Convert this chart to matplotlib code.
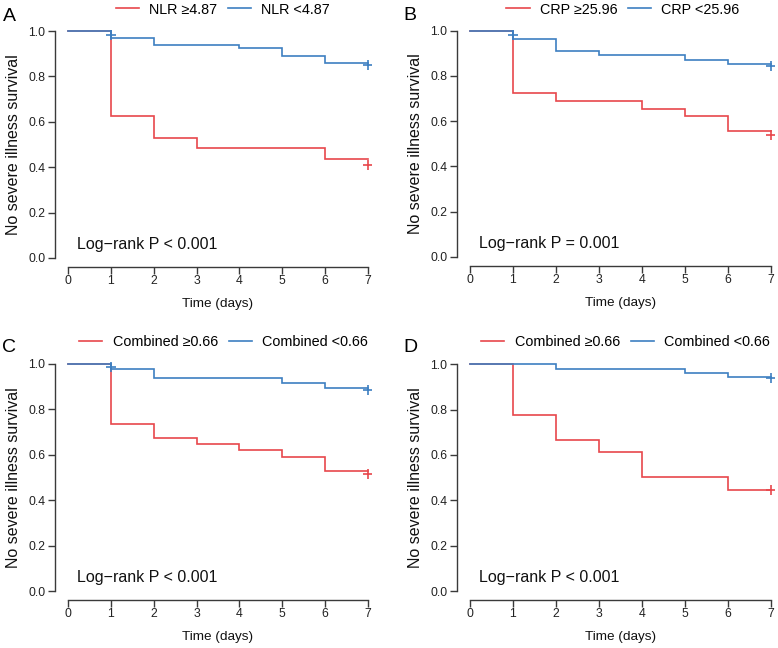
import matplotlib
matplotlib.use("Agg")
import matplotlib.pyplot as plt
from matplotlib.lines import Line2D

plt.rcParams['font.family'] = ['Liberation Sans', 'DejaVu Sans']

RED = '#E8474C'
BLUE = '#3D7FC1'

panel_letters = ['A', 'B', 'C', 'D']
legend_labels = [
    ['NLR \u22654.87', 'NLR <4.87'],
    ['CRP \u226525.96', 'CRP <25.96'],
    ['Combined \u22650.66', 'Combined <0.66'],
    ['Combined \u22650.66', 'Combined <0.66'],
]
pvalue_texts = ['Log\u2212rank P < 0.001', 'Log\u2212rank P = 0.001',
                'Log\u2212rank P < 0.001', 'Log\u2212rank P < 0.001']

# Step curves (time, survival)
red_t = [
    [0, 1, 2, 3, 6, 7],
    [0, 1, 2, 4, 5, 6, 7],
    [0, 1, 2, 3, 4, 5, 6, 7],
    [0, 1, 2, 3, 4, 6, 7],
]
red_s = [
    [1.0, 0.624, 0.530, 0.483, 0.435, 0.435],
    [1.0, 0.726, 0.690, 0.655, 0.623, 0.555, 0.555],
    [1.0, 0.734, 0.675, 0.648, 0.620, 0.590, 0.530, 0.530],
    [1.0, 0.776, 0.666, 0.613, 0.503, 0.446, 0.446],
]
blue_t = [
    [0, 1, 2, 4, 5, 6, 7],
    [0, 1, 2, 3, 5, 6, 7],
    [0, 1, 2, 5, 6, 7],
    [0, 2, 5, 6, 7],
]
blue_s = [
    [1.0, 0.970, 0.940, 0.924, 0.891, 0.858, 0.858],
    [1.0, 0.965, 0.909, 0.891, 0.872, 0.854, 0.854],
    [1.0, 0.978, 0.938, 0.916, 0.896, 0.896],
    [1.0, 0.979, 0.962, 0.943, 0.943],
]
# Censor marks
red_cens_t = [[7], [7], [7], [7]]
red_cens_s = [[0.408], [0.537], [0.515], [0.444]]
blue_cens_t = [[1, 7], [1, 7], [1, 7], [7]]
blue_cens_s = [[0.983, 0.850], [0.982, 0.842], [0.988, 0.885], [0.940]]

x_ticks = [0, 1, 2, 3, 4, 5, 6, 7]
y_ticks = [0.0, 0.2, 0.4, 0.6, 0.8, 1.0]
y_ticklabels = ['0.0', '0.2', '0.4', '0.6', '0.8', '1.0']

W, H = 778, 648
fig = plt.figure(figsize=(W / 100, H / 100), dpi=100)

# pixel mapping per panel: x of data 0, x of data 7, y of data 0, y of data 1
maps = [
    (68, 368, 258, 31),
    (470, 770.7, 256.7, 30.7),
    (68, 368, 591, 364),
    (470, 770.7, 591, 364.3),
]
legend_centers = [(223, 9.5), (623, 9.5), (223.5, 342), (625.5, 342)]
letter_pos = [(3, 21), (403, 20), (2, 352), (403, 352)]

XL = (-0.31, 7.08)
YL = (-0.04, 1.03)

for i in range(4):
    x0, x7, y0, y1 = maps[i]
    ux = (x7 - x0) / 7.0
    uy = (y0 - y1)
    left = x0 + XL[0] * ux
    right = x0 + XL[1] * ux
    bottom = y0 - YL[0] * uy
    top = y0 - YL[1] * uy
    ax = fig.add_axes([left / W, 1 - bottom / H, (right - left) / W, (bottom - top) / H])
    ax.set_xlim(*XL)
    ax.set_ylim(*YL)
    ax.patch.set_alpha(0)

    ax.step(red_t[i], red_s[i], where='post', color=RED, lw=1.2, solid_joinstyle='miter')
    ax.step(blue_t[i], blue_s[i], where='post', color=BLUE, lw=1.2, solid_joinstyle='miter')
    ax.plot(red_cens_t[i], red_cens_s[i], ls='none', marker='+', ms=7.5, mew=1.2, color=RED)
    ax.plot(blue_cens_t[i], blue_cens_s[i], ls='none', marker='+', ms=7.5, mew=1.2, color=BLUE)

    for s in ['top', 'right']:
        ax.spines[s].set_visible(False)
    for s in ['left', 'bottom']:
        ax.spines[s].set_color('#3a3a3a')
        ax.spines[s].set_linewidth(1.0)
    ax.spines['left'].set_bounds(0, 1)
    ax.spines['bottom'].set_bounds(0, 7)
    ax.set_xticks(x_ticks)
    ax.set_yticks(y_ticks)
    ax.set_yticklabels(y_ticklabels)
    ax.tick_params(axis='both', colors='#3a3a3a', labelcolor='#222222', labelsize=8.8,
                   length=5, width=1.0)
    ax.tick_params(axis='x', pad=1.0)
    ax.tick_params(axis='y', pad=1.6)

    ax.text(0.22, 0.06, pvalue_texts[i], fontsize=11.5, color='#111111',
            ha='left', va='center')

    # axis labels
    fig.text((x0 + 3.5 * ux) / W, 1 - (y0 + 46) / H, 'Time (days)', fontsize=9.7,
             ha='center', va='center', color='#111111')
    fig.text((x0 - 54) / W, 1 - ((y0 + y1) / 2) / H, 'No severe illness survival',
             fontsize=11.5, rotation=90, ha='center', va='center', color='#111111')

    # panel letter
    lx, ly = letter_pos[i]
    fig.text(lx / W, 1 - ly / H, panel_letters[i], fontsize=14, ha='left',
             va='baseline', color='#000000')

    handles = [Line2D([], [], color=RED, lw=1.2), Line2D([], [], color=BLUE, lw=1.2)]
    cx, cy = legend_centers[i]
    fig.legend(handles, legend_labels[i], loc='center', ncol=2,
               bbox_to_anchor=(cx / W, 1 - cy / H), frameon=False, fontsize=10.4,
               handlelength=1.6, handletextpad=0.7, columnspacing=0.75,
               borderpad=0, borderaxespad=0)

fig.savefig('out.png', dpi=100)
